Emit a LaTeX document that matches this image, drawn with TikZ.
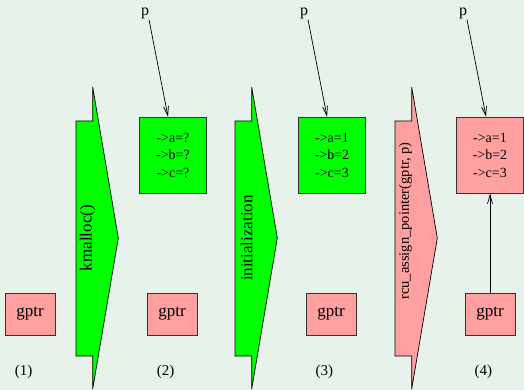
\documentclass[tikz,border=0pt]{standalone}
\usepackage{fontspec}
\setmainfont{Liberation Serif}
\usetikzlibrary{arrows.meta}
\definecolor{bg}{HTML}{E6F2EA}
\definecolor{pinkfill}{HTML}{FFA0A0}
\definecolor{greenfill}{HTML}{00FF00}
\definecolor{edge}{HTML}{333333}
\tikzset{
  gbox/.style={draw=edge, line width=0.9pt, fill=pinkfill, minimum width=50pt, minimum height=42pt, inner sep=0pt, font=\fontsize{17}{20}\selectfont},
  dbox/.style={draw=edge, line width=0.9pt, minimum width=67pt, minimum height=76pt, inner sep=0pt, align=center, font=\fontsize{14}{17.5}\selectfont},
  numlbl/.style={font=\fontsize{15}{18}\selectfont, inner sep=1pt},
  plbl/.style={font=\fontsize{16}{18}\selectfont, inner sep=1pt},
  bigarrow/.style={draw=black, line width=0.7pt},
  ptr/.style={draw=black, line width=0.7pt, -{Straight Barb[length=9pt,width=5pt]}},
}
\begin{document}
\begin{tikzpicture}[x=1pt,y=-1pt]
\fill[bg] (0,0) rectangle (524,390);
\useasboundingbox (0,0) rectangle (524,390);

% gptr boxes
\node[gbox] (g1) at (30,314) {gptr};
\node[gbox] (g2) at (172,314) {gptr};
\node[gbox] (g3) at (331,314) {gptr};
\node[gbox] (g4) at (490,314) {gptr};

% step labels
\node[numlbl] (n1) at (23.7,372) {(1)};
\node[numlbl] (n2) at (165.7,372) {(2)};
\node[numlbl] (n3) at (324.3,372) {(3)};
\node[numlbl] (n4) at (483.3,372) {(4)};

% data boxes
\node[dbox, fill=greenfill] (d2) at (173,155) {->a=?\\->b=?\\->c=?};
\node[dbox, fill=greenfill] (d3) at (332,155) {->a=1\\->b=2\\->c=3};
\node[dbox, fill=pinkfill] (d4) at (490,155) {->a=1\\->b=2\\->c=3};

% p labels
\node[plbl] (p2) at (145,13) {p};
\node[plbl] (p3) at (304,13) {p};
\node[plbl] (p4) at (463,13) {p};

\draw[ptr] ([xshift=4pt]p2.south) -- ([xshift=-5pt]d2.north);
\draw[ptr] ([xshift=4pt]p3.south) -- ([xshift=-5pt]d3.north);
\draw[ptr] ([xshift=4pt]p4.south) -- ([xshift=-4pt]d4.north);
\draw[ptr] (g4.north) -- (d4.south);

% big arrows
\foreach \dx/\col in {0/greenfill,159/greenfill,319/pinkfill}{
  \filldraw[bigarrow, fill=\col, shift={(\dx,0)}]
    (76,121) -- (92.7,121) -- (92.7,87) -- (118.3,238) -- (92.7,389)
    -- (92.7,356) -- (76,356) -- cycle;
}
\node[rotate=90, font=\fontsize{17}{20}\selectfont, inner sep=0pt] (l1) at (87.5,238) {kmalloc()};
\node[rotate=90, font=\fontsize{17}{20}\selectfont, inner sep=0pt] (l2) at (246.5,238) {initialization};
\node[rotate=90, font=\fontsize{14.5}{17}\selectfont, inner sep=0pt] (l3) at (405.5,221) {rcu\_assign\_pointer(gptr, p)};
\end{tikzpicture}
\end{document}
